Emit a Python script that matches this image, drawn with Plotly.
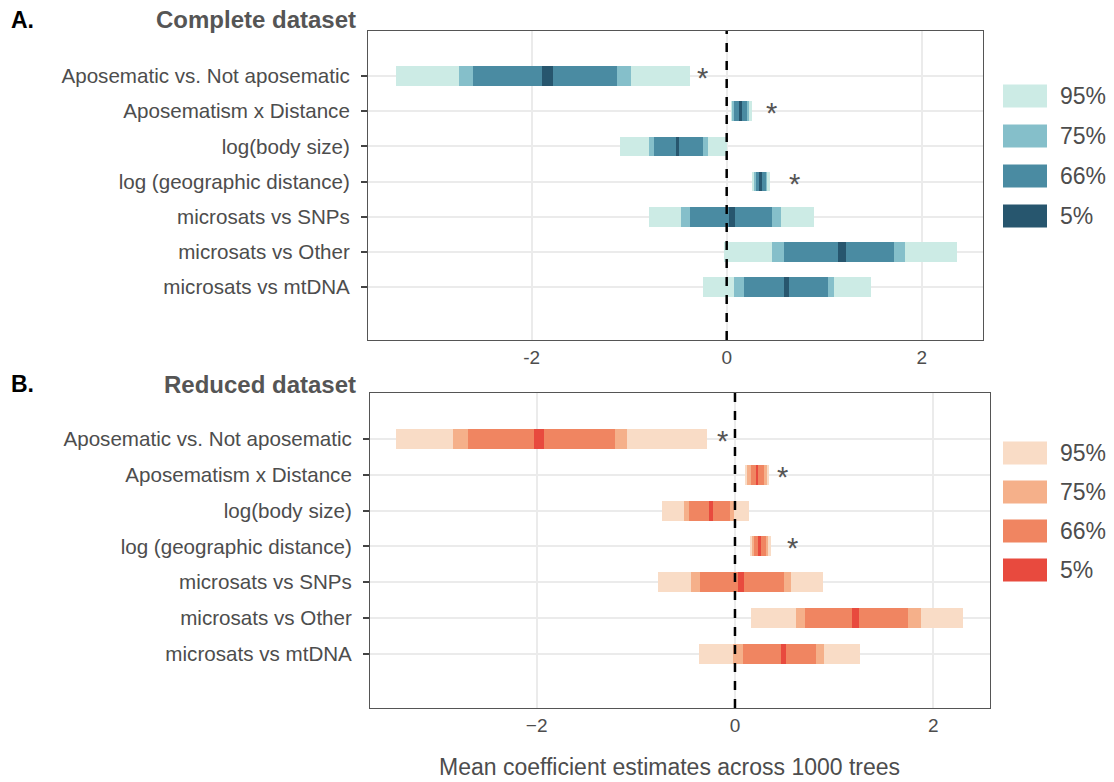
import plotly.graph_objects as go

W, H = 1114, 782

labels = ["Aposematic vs. Not aposematic", "Aposematism x Distance", "log(body size)",
          "log (geographic distance)", "microsats vs SNPs", "microsats vs Other", "microsats vs mtDNA"]

# Complete dataset (A)
a_lo95 = [-3.395, 0.044, -1.097, 0.256, -0.797, -0.028, -0.246]
a_hi95 = [-0.376, 0.256, 0.006, 0.444, 0.895, 2.362, 1.483]
a_lo75 = [-2.743, 0.058, -0.794, 0.283, -0.469, 0.468, 0.078]
a_hi75 = [-0.985, 0.225, -0.189, 0.416, 0.554, 1.832, 1.104]
a_lo66 = [-2.599, 0.075, -0.749, 0.300, -0.373, 0.591, 0.177]
a_hi66 = [-1.128, 0.211, -0.240, 0.403, 0.465, 1.719, 1.039]
a_lo5 = [-1.891, 0.126, -0.520, 0.331, 0.021, 1.145, 0.591]
a_hi5 = [-1.785, 0.157, -0.486, 0.365, 0.085, 1.224, 0.642]
a_star = [-0.243, 0.462, None, 0.700, None, None, None]

# Reduced dataset (B)
b_lo95 = [-3.419, 0.101, -0.733, 0.151, -0.780, 0.161, -0.363]
b_hi95 = [-0.285, 0.348, 0.138, 0.363, 0.884, 2.300, 1.261]
b_lo75 = [-2.844, 0.124, -0.514, 0.175, -0.447, 0.612, -0.017]
b_hi75 = [-1.086, 0.326, -0.010, 0.336, 0.565, 1.876, 0.898]
b_lo66 = [-2.696, 0.158, -0.464, 0.192, -0.353, 0.709, 0.081]
b_hi66 = [-1.210, 0.296, -0.050, 0.313, 0.494, 1.745, 0.817]
b_lo5 = [-2.024, 0.219, -0.259, 0.242, 0.034, 1.176, 0.461]
b_hi5 = [-1.926, 0.235, -0.225, 0.259, 0.091, 1.246, 0.511]
b_star = [-0.128, 0.481, None, 0.582, None, None, None]

levels = ["95%", "75%", "66%", "5%"]
colors_a = ["#CCEBE5", "#85BFCA", "#4A8BA2", "#27566E"]
colors_b = ["#F9DCC6", "#F5B08A", "#F08561", "#E84A3E"]

tick_vals = [-2, 0, 2]
tick_text_a = ["-2", "0", "2"]
tick_text_b = ["\u22122", "0", "2"]

TEXT = "#4D4D4D"
FONT = "Liberation Sans, Arial, sans-serif"

fig = go.Figure()

def add_panel(fig, ivals, colors, xa, ya):
    for (lo, hi), col, lev in zip(ivals, colors, levels):
        fig.add_trace(go.Bar(
            y=labels, x=[h - l for l, h in zip(lo, hi)], base=lo,
            orientation="h", width=0.56, marker=dict(color=col, line=dict(width=0)),
            name=lev, showlegend=False, xaxis=xa, yaxis=ya,
            hovertemplate="%{y}: %{base:.2f} to %{x:.2f}<extra>" + lev + "</extra>"))

add_panel(fig, [(a_lo95, a_hi95), (a_lo75, a_hi75), (a_lo66, a_hi66), (a_lo5, a_hi5)], colors_a, "x", "y")
add_panel(fig, [(b_lo95, b_hi95), (b_lo75, b_hi75), (b_lo66, b_hi66), (b_lo5, b_hi5)], colors_b, "x2", "y2")

def px(x):
    return x / W

def py(y):
    return 1 - y / H

common_x = dict(showgrid=True, gridcolor="#EBEBEB", gridwidth=2, zeroline=False,
                tickmode="array", tickvals=tick_vals, ticks="",
                tickfont=dict(size=19, color=TEXT, family=FONT),
                showline=True, mirror=True, linecolor="#555555", linewidth=1)
common_y = dict(type="category", categoryarray=labels, showgrid=True, gridcolor="#EBEBEB",
                gridwidth=2, zeroline=False, ticks="outside", ticklen=6, tickwidth=2,
                tickcolor="#444444", ticklabelstandoff=7,
                tickfont=dict(size=20.6, color=TEXT, family=FONT),
                showline=True, mirror=True, linecolor="#555555", linewidth=1)

fig.update_layout(
    width=W, height=H, margin=dict(l=0, r=0, t=0, b=0),
    paper_bgcolor="white", plot_bgcolor="white", barmode="overlay", bargap=0,
    showlegend=False,
    font=dict(family=FONT, color=TEXT),
    xaxis=dict(domain=[px(368), px(983)], range=[-3.679, 2.629], anchor="y",
               ticktext=tick_text_a, **common_x),
    yaxis=dict(domain=[py(340), py(31)], range=[7.5, -1.28], anchor="x", **common_y),
    xaxis2=dict(domain=[px(370), px(990)], range=[-3.681, 2.572], anchor="y2",
                ticktext=tick_text_b, **common_x),
    yaxis2=dict(domain=[py(708), py(393)], range=[7.52, -1.29], anchor="x2", **common_y),
)

shapes = []
annotations = []
# dashed zero lines
for xr, yr in [("x", "y domain"), ("x2", "y2 domain")]:
    shapes.append(dict(type="line", xref=xr, yref=yr, x0=0, x1=0, y0=0, y1=1,
                       line=dict(color="black", width=2.5, dash="9px,9px"), layer="above"))

# stars
for stars, xr, yr in [(a_star, "x", "y"), (b_star, "x2", "y2")]:
    for lab, s in zip(labels, stars):
        if s is None:
            continue
        annotations.append(dict(x=s, y=lab, xref=xr, yref=yr, text="*", showarrow=False,
                                font=dict(size=29, color="#555555", family=FONT), yshift=-2))

# manual legends
for colors, centers in [(colors_a, [96, 136, 176, 216]), (colors_b, [453, 492, 531, 570])]:
    for col, lev, cy in zip(colors, levels, centers):
        shapes.append(dict(type="rect", xref="paper", yref="paper",
                           x0=px(1003), x1=px(1047), y0=py(cy + 11.5), y1=py(cy - 11.5),
                           fillcolor=col, line=dict(width=0)))
        annotations.append(dict(x=px(1058), y=py(cy), xref="paper", yref="paper", text=lev,
                                showarrow=False, xanchor="left", yanchor="middle",
                                font=dict(size=23, color=TEXT, family=FONT)))

# panel titles
for tag, title, cy in [("A.", "Complete dataset", 20), ("B.", "Reduced dataset", 384)]:
    annotations.append(dict(x=px(9), y=py(cy), xref="paper", yref="paper", text="<b>" + tag + "</b>",
                            showarrow=False, xanchor="left", yanchor="middle",
                            font=dict(size=23, color="black", family=FONT)))
    annotations.append(dict(x=px(358), y=py(cy), xref="paper", yref="paper", text="<b>" + title + "</b>",
                            showarrow=False, xanchor="right", yanchor="middle",
                            font=dict(size=24, color="#555555", family=FONT)))

annotations.append(dict(x=px(669), y=py(767), xref="paper", yref="paper",
                        text="Mean coefficient estimates across 1000 trees", showarrow=False,
                        xanchor="center", yanchor="middle",
                        font=dict(size=23, color=TEXT, family=FONT)))

fig.update_layout(shapes=shapes, annotations=annotations)
fig.write_html("out.html")
